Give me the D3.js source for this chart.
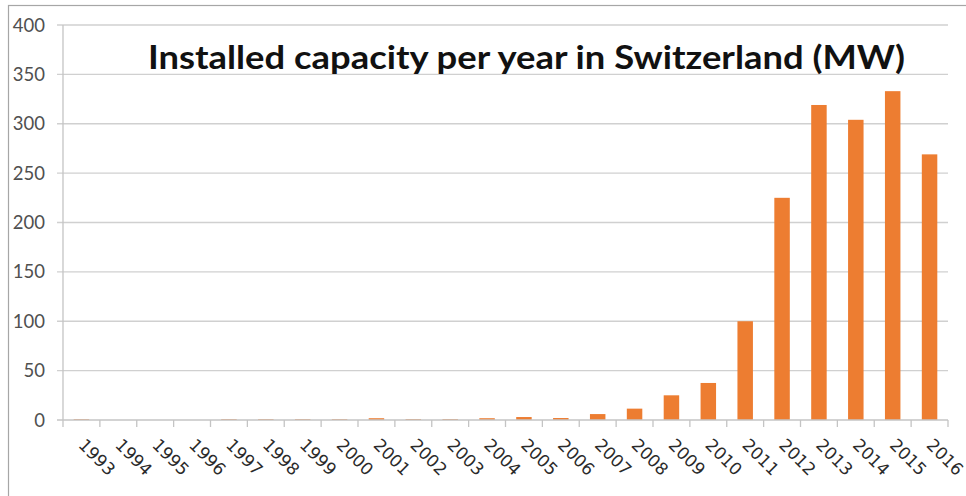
<!DOCTYPE html>
<html>
<head>
<meta charset="utf-8">
<script src="https://cdn.jsdelivr.net/npm/d3@7"></script>
<style>
  html, body { margin: 0; padding: 0; background: #fff; }
  svg { display: block; }
</style>
</head>
<body>
<script>
// Installed photovoltaic capacity added each year (MW)
const years = ["1993","1994","1995","1996","1997","1998","1999","2000","2001","2002","2003","2004",
               "2005","2006","2007","2008","2009","2010","2011","2012","2013","2014","2015","2016"];
const capacity = [0.8, 0, 0, 0, 0.8, 0.8, 0.8, 0.8, 1.8, 0.9, 0.9, 1.8,
                  3, 2, 6, 11.5, 25, 37.5, 100, 225, 319, 304, 333, 269];
const yTicks = [0, 50, 100, 150, 200, 250, 300, 350, 400];
const titleText = "Installed capacity per year in Switzerland (MW)";

const W = 966, H = 496;
const plotLeft = 63, plotRight = 948, plotTop = 25, plotBottom = 420;

const svg = d3.select("body").append("svg").attr("width", W).attr("height", H);

// outer frame
svg.append("rect")
  .attr("x", 8.5).attr("y", 5.5).attr("width", W + 10).attr("height", H + 10)
  .attr("fill", "#fff").attr("stroke", "#a6a6a6").attr("stroke-width", 1.2);

const x = d3.scaleBand().domain(years).range([plotLeft, plotRight]).paddingInner(0.58).paddingOuter(0.29);
const xb = d3.scaleBand().domain(years).range([plotLeft, plotRight]);
const y = d3.scaleLinear().domain([0, 400]).range([plotBottom, plotTop]);

// horizontal gridlines
svg.append("g").selectAll("line").data(yTicks.filter(d => d > 0)).join("line")
  .attr("x1", plotLeft - 6).attr("x2", plotRight)
  .attr("y1", d => y(d)).attr("y2", d => y(d))
  .attr("stroke", "#d0d0d0").attr("stroke-width", 1.3);

// y axis labels
svg.append("g").selectAll("text").data(yTicks).join("text")
  .attr("x", 45).attr("y", d => y(d) + 6.5)
  .attr("text-anchor", "end")
  .attr("font-family", "Lato, 'Open Sans', sans-serif")
  .attr("font-size", 18.5)
  .attr("fill", "#505050")
  .text(d => d);

// vertical axis line
svg.append("line")
  .attr("x1", plotLeft).attr("x2", plotLeft).attr("y1", plotTop).attr("y2", plotBottom)
  .attr("stroke", "#c4c4c4").attr("stroke-width", 1.3);

// bars
svg.append("g").selectAll("rect").data(years).join("rect")
  .attr("x", d => x(d))
  .attr("width", x.bandwidth())
  .attr("y", (d, i) => y(capacity[i]))
  .attr("height", (d, i) => plotBottom - y(capacity[i]))
  .attr("fill", "#ED7D31");

// x axis with ticks at category boundaries
const xAxis = svg.append("g");
xAxis.append("line")
  .attr("x1", plotLeft - 6).attr("x2", plotRight).attr("y1", plotBottom).attr("y2", plotBottom)
  .attr("stroke", "#c4c4c4").attr("stroke-width", 1.3);
const bounds = years.map(d => xb(d)).concat([plotRight]);
xAxis.selectAll("line.tick").data(bounds).join("line")
  .attr("class", "tick")
  .attr("x1", d => d).attr("x2", d => d).attr("y1", plotBottom).attr("y2", plotBottom + 7)
  .attr("stroke", "#c4c4c4").attr("stroke-width", 1.3);

xAxis.selectAll("text").data(years).join("text")
  .attr("transform", d => `translate(${xb(d) + xb.bandwidth() / 2 - 4},446) rotate(45)`)
  .attr("font-family", "'DejaVu Sans', Verdana, sans-serif")
  .attr("font-size", 17)
  .attr("fill", "#2a2a2a")
  .text(d => d);

// title
svg.append("text")
  .attr("x", 148).attr("y", 69)
  .attr("font-family", "Lato, 'Open Sans', sans-serif")
  .attr("font-weight", "bold")
  .attr("font-size", 32)
  .attr("fill", "#111")
  .attr("textLength", 757)
  .attr("lengthAdjust", "spacingAndGlyphs")
  .text(titleText);
</script>
</body>
</html>
